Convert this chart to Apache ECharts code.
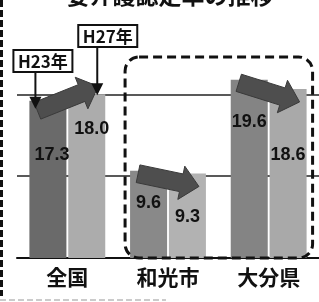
<!DOCTYPE html>
<html>
<head>
<meta charset="utf-8">
<script src="https://cdn.jsdelivr.net/npm/echarts@6/dist/echarts.min.js"></script>
<style>
  html, body { margin: 0; padding: 0; background: #fff; }
  #main { width: 319px; height: 302px; }
</style>
</head>
<body>
<div id="main"></div>
<script>
// 要介護認定率（%）
var titleText = '要介護認定率の推移';
var categories = ['全国', '和光市', '大分県'];
var yearTags = ['H23年', 'H27年'];
var rateH23 = [17.3, 9.6, 19.6];
var rateH27 = [18.0, 9.3, 18.6];

// 見た目
var colorH23 = ['#6a6a6a', '#898989', '#848484'];
var colorH27 = ['#acacac', '#b2b2b2', '#a9a9a9'];
var labelDrop23 = [54, 32, 42];
var labelDrop27 = [35, 44, 66];
var labelShift23 = [4, 0, 0];
var labelShift27 = [5, 0, 0];
var JP = '"Noto Sans CJK JP", "Noto Sans", sans-serif';

function barSeries(name, values, colors, drops, shifts) {
    return {
        name: name,
        type: 'bar',
        barWidth: 37,
        barGap: '5%',
        z: 2,
        label: {
            show: true,
            align: 'center',
            verticalAlign: 'middle',
            fontSize: 18,
            fontWeight: 'bold',
            fontFamily: '"Liberation Sans", Arial, sans-serif',
            color: '#111',
            formatter: function (p) { return Number(p.value).toFixed(1); }
        },
        data: values.map(function (v, i) {
            return {
                value: v,
                itemStyle: { color: colors[i] },
                label: { position: ['50%', drops[i]], offset: [shifts[i], 0] }
            };
        })
    };
}

var chart = echarts.init(document.getElementById('main'));

chart.setOption({
    animation: false,
    backgroundColor: '#fff',
    grid: { left: 17, right: 0, top: 58, bottom: 44 },
    xAxis: {
        type: 'category',
        data: categories,
        axisLine: { lineStyle: { color: '#111', width: 2 } },
        axisTick: { show: false },
        axisLabel: { fontSize: 21, fontWeight: 'bold', color: '#111', margin: 9, fontFamily: JP }
    },
    yAxis: {
        type: 'value',
        min: 0,
        max: 22,
        interval: 9,
        axisLine: { show: false },
        axisTick: { show: false },
        axisLabel: { show: false },
        splitLine: {
            show: true,
            showMinLine: false,
            showMaxLine: false,
            lineStyle: { color: '#222', width: 1.5 }
        }
    },
    series: [
        barSeries(yearTags[0], rateH23, colorH23, labelDrop23, labelShift23),
        barSeries(yearTags[1], rateH27, colorH27, labelDrop27, labelShift27)
    ]
});

// バーの矩形（ライブラリのレイアウトから取得）
function barRect(s, i) {
    var l = chart.getModel().getSeriesByIndex(s).getData().getItemLayout(i);
    return {
        left: Math.min(l.x, l.x + l.width),
        right: Math.max(l.x, l.x + l.width),
        top: Math.min(l.y, l.y + l.height)
    };
}

function blockArrow(tx, ty, px, py, a, b, h) {
    var dx = px - tx, dy = py - ty;
    var len = Math.sqrt(dx * dx + dy * dy);
    var ux = dx / len, uy = dy / len, nx = -uy, ny = ux;
    var hx = px - ux * h, hy = py - uy * h;
    return [
        [tx + nx * a, ty + ny * a], [hx + nx * a, hy + ny * a], [hx + nx * b, hy + ny * b],
        [px, py],
        [hx - nx * b, hy - ny * b], [hx - nx * a, hy - ny * a], [tx - nx * a, ty - ny * a]
    ];
}

function pointer(x, y1, y2) {
    return [
        { type: 'line', z: 120, shape: { x1: x, y1: y1, x2: x, y2: y2 - 10 },
          style: { stroke: '#111', lineWidth: 2 } },
        { type: 'polygon', z: 120, shape: { points: [[x - 6, y2 - 12], [x + 6, y2 - 12], [x, y2]] },
          style: { fill: '#111' } }
    ];
}

function tag(text, x, y) {
    return [
        { type: 'rect', z: 120, shape: { x: x, y: y, width: 59, height: 22 },
          style: { fill: '#fff', stroke: '#111', lineWidth: 2 } },
        { type: 'text', z: 121, style: { text: text, x: x + 29.5, y: y + 11.5, align: 'center',
          verticalAlign: 'middle', fontSize: 17, fontWeight: 'bold', fontFamily: JP, fill: '#111' } }
    ];
}

var g = [];
g.push({ type: 'text', z: 100, style: { text: titleText, x: 170, y: 7, align: 'center',
    verticalAlign: 'bottom', fontSize: 23, fontWeight: 'bold', fontFamily: JP, fill: '#111' } });
g.push({ type: 'line', z: 100, shape: { x1: 1.5, y1: 0, x2: 1.5, y2: 296 },
    style: { stroke: '#111', lineWidth: 3, lineDash: [7, 3] } });
g.push({ type: 'line', z: 100, shape: { x1: 0, y1: 300, x2: 166, y2: 300 },
    style: { stroke: '#bbb', lineWidth: 1.5, lineDash: [6, 3] } });

// 増減の矢印
categories.forEach(function (c, i) {
    var r1 = barRect(0, i), r2 = barRect(1, i);
    var up = rateH27[i] >= rateH23[i];
    var tx = r1.left + 8, ty = r1.top + (up ? 10 : 3);
    var px = r2.right - 7, py = r2.top + (up ? -8 : 13);
    g.push({ type: 'polygon', z: 110, shape: { points: blockArrow(tx, ty, px, py, 9, 17, 18) },
        style: { fill: '#4e4e4e', stroke: '#3a3a3a', lineWidth: 1 } });
});

// 和光市・大分県の破線枠
var wL = barRect(0, 1), oR = barRect(1, 2);
g.push({ type: 'rect', z: 105, shape: { x: wL.left - 5, y: 57, width: oR.right + 6 - (wL.left - 5), height: 201, r: 14 },
    style: { fill: 'none', stroke: '#111', lineWidth: 3, lineDash: [9, 5] } });

// H23年・H27年の注記
var a1 = barRect(0, 0), a2 = barRect(1, 0);
var p1 = a1.left + 6, p2 = a2.right - 8;
g = g.concat(pointer(p1, 72, a1.top + 8), pointer(p2, 47, a2.top + 1));
g = g.concat(tag(yearTags[0], p1 - 22, 50), tag(yearTags[1], p2 - 19, 25));

chart.setOption({ graphic: g });
</script>
</body>
</html>
